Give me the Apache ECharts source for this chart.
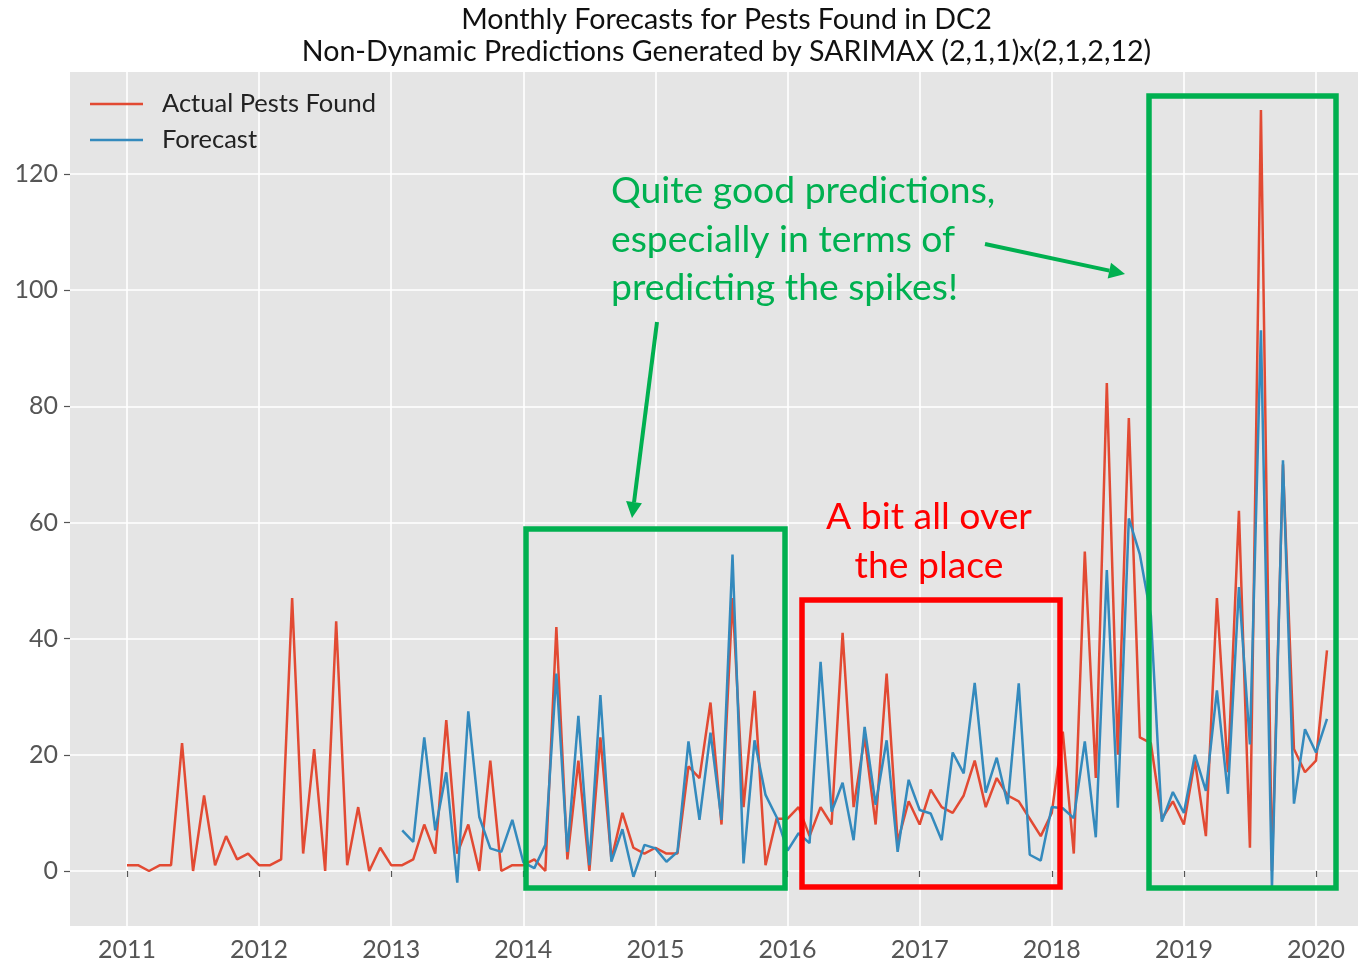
<!DOCTYPE html>
<html>
<head>
<meta charset="utf-8">
<script src="https://cdn.jsdelivr.net/npm/echarts@6/dist/echarts.min.js"></script>
<style>
  html, body { margin: 0; padding: 0; background: #ffffff; }
  #chart { width: 1369px; height: 966px; }
</style>
</head>
<body>
<div id="chart"></div>
<script>
// Monthly pest counts found in DC2, January 2011 onwards
const actualStart = '2011-01';
const actualPests = [
  1, 1, 0, 1, 1, 22, 0, 13, 1, 6, 2, 3,          // 2011
  1, 1, 2, 47, 3, 21, 0, 43, 1, 11, 0, 4,        // 2012
  1, 1, 2, 8, 3, 26, 3, 8, 0, 19, 0, 1,          // 2013
  1, 2, 0, 42, 2, 19, 0, 23, 2, 10, 4, 3,        // 2014
  4, 3, 3, 18, 16, 29, 8, 47, 11, 31, 1, 9,      // 2015
  9, 11, 6, 11, 8, 41, 11, 23, 8, 34, 5, 12,     // 2016
  8, 14, 11, 10, 13, 19, 11, 16, 13, 12, 9, 6,   // 2017
  10, 24, 3, 55, 16, 84, 20, 78, 23, 22, 9, 12,  // 2018
  8, 19, 6, 47, 17, 62, 4, 131, 0, 70, 21, 17,   // 2019
  19, 38                                         // 2020
];

// One-step-ahead SARIMAX forecasts, February 2013 onwards
const forecastStart = '2013-02';
const forecastPests = [
  7, 5, 23, 7, 17, -2, 27.5, 9.3, 3.9, 3.3, 8.8,                // 2013
  1.5, 0.5, 4.5, 34, 3.3, 26.7, 1, 30.3, 1.6, 7.2, -1, 4.5,     // 2014
  3.9, 1.6, 3.3, 22.3, 8.8, 23.8, 8.8, 54.5, 1.3, 22.5, 13.1, 9.3, // 2015
  3.5, 6.5, 4.8, 36, 10.2, 15.2, 5.3, 24.8, 11.4, 22.5, 3.3, 15.7, // 2016
  10.5, 9.9, 5.3, 20.4, 16.8, 32.4, 13.5, 19.5, 11.5, 32.3, 2.8, 1.8, // 2017
  11, 10.8, 9.1, 22.3, 5.8, 51.8, 10.9, 60.7, 54.5, 44, 8.5, 13.6, // 2018
  10, 20, 13.8, 31.1, 13.3, 48.9, 21.8, 93.1, -3, 70.7, 11.6, 24.4, // 2019
  20.4, 26.2                                                    // 2020
];

const yearTicks = [2011, 2012, 2013, 2014, 2015, 2016, 2017, 2018, 2019, 2020];
const countTicks = [0, 20, 40, 60, 80, 100, 120];

const seriesNames = ['Actual Pests Found', 'Forecast'];
const titleLines = [
  'Monthly Forecasts for Pests Found in DC2',
  'Non-Dynamic Predictions Generated by SARIMAX (2,1,1)x(2,1,2,12)'
];
const noteGood = ['Quite good predictions,', 'especially in terms of', 'predicting the spikes!'];
const noteMixed = ['A bit all over', 'the place'];

// month string -> fractional year, so year ticks sit on January
function monthToYear(s) {
  const [y, m] = s.split('-').map(Number);
  return y + (m - 1) / 12;
}
function toPoints(start, values) {
  const x0 = monthToYear(start);
  return values.map((v, i) => [x0 + i / 12, v]);
}

const FONT = 'Lato, "Open Sans", sans-serif';
const RED = '#E24A33', BLUE = '#348ABD';
const NOTE_GREEN = '#00B050', NOTE_RED = '#FF0000';

// arrow drawn as a shaft plus a filled head
function arrow(x1, y1, x2, y2, color) {
  const dx = x2 - x1, dy = y2 - y1, len = Math.hypot(dx, dy);
  const ux = dx / len, uy = dy / len, headLen = 16, headW = 8;
  const bx = x2 - ux * headLen, by = y2 - uy * headLen;
  return [
    { type: 'line', shape: { x1, y1, x2: bx, y2: by },
      style: { stroke: color, lineWidth: 4 }, z: 100 },
    { type: 'polygon', shape: { points: [[x2, y2], [bx - uy * headW, by + ux * headW], [bx + uy * headW, by - ux * headW]] },
      style: { fill: color }, z: 100 }
  ];
}
function box(x1, y1, x2, y2, color) {
  return { type: 'rect', shape: { x: x1, y: y1, width: x2 - x1, height: y2 - y1 },
    style: { fill: 'none', stroke: color, lineWidth: 5.5 }, z: 100 };
}
function noteText(lines, x, y, color, align) {
  return { type: 'text', x, y, z: 100,
    style: { text: lines.join('\n'), fill: color, font: '37.3px ' + FONT,
      lineHeight: 48.5, align: align, verticalAlign: 'top' } };
}

const chart = echarts.init(document.getElementById('chart'), null, { renderer: 'canvas' });

chart.setOption({
  animation: false,
  backgroundColor: '#ffffff',
  title: {
    text: titleLines.join('\n'),
    left: 721.5, top: -1, textAlign: 'center',
    textStyle: { fontFamily: FONT, fontSize: 28.6, fontWeight: 'normal', color: '#111', lineHeight: 32 }
  },
  grid: {
    left: 70, right: 11, top: 72, bottom: 40,
    show: true, backgroundColor: '#E5E5E5', borderWidth: 0
  },
  legend: {
    orient: 'vertical', left: 90, top: 91, padding: 0,
    icon: 'rect', itemWidth: 53, itemHeight: 2.5, itemGap: 10,
    data: seriesNames,
    textStyle: { fontFamily: FONT, fontSize: 25.5, color: '#222', padding: [0, 0, 0, 14] }
  },
  xAxis: {
    type: 'value', min: 2010.5685, max: 2020.318,
    axisLine: { show: false },
    axisTick: { show: true, length: 6, customValues: yearTicks, lineStyle: { color: '#555', width: 1.2 } },
    axisLabel: { customValues: yearTicks, margin: 11, fontFamily: FONT, fontSize: 25, color: '#555',
      formatter: v => String(Math.round(v)) },
    splitLine: { show: true, lineStyle: { color: '#ffffff', width: 1.6 } }
  },
  yAxis: {
    type: 'value', min: -9.47, max: 137.56,
    axisLine: { show: false },
    axisTick: { show: true, length: 6, customValues: countTicks, lineStyle: { color: '#555', width: 1.2 } },
    axisLabel: { customValues: countTicks, margin: 12, fontFamily: FONT, fontSize: 25, color: '#555' },
    splitLine: { show: true, lineStyle: { color: '#ffffff', width: 1.6 } }
  },
  series: [
    { name: seriesNames[0], type: 'line', data: toPoints(actualStart, actualPests),
      showSymbol: false, symbol: 'none', lineStyle: { color: RED, width: 2.5 }, itemStyle: { color: RED }, z: 3 },
    { name: seriesNames[1], type: 'line', data: toPoints(forecastStart, forecastPests),
      showSymbol: false, symbol: 'none', lineStyle: { color: BLUE, width: 2.5 }, itemStyle: { color: BLUE }, z: 4 }
  ],
  graphic: [
    { type: 'rect', shape: { x: 81, y: 84, width: 304, height: 78, r: 4 },
      style: { fill: '#E5E5E5', stroke: '#CCCCCC', lineWidth: 1 }, z: -1, silent: true },
    box(526, 529, 785, 888, NOTE_GREEN),
    box(802, 600, 1060, 887, NOTE_RED),
    box(1149, 96, 1336, 888, NOTE_GREEN),
    noteText(noteGood, 611, 167, NOTE_GREEN, 'left'),
    noteText(noteMixed, 929, 493, NOTE_RED, 'center'),
    ...arrow(657, 322, 632, 518, NOTE_GREEN),
    ...arrow(985, 244, 1125, 274, NOTE_GREEN)
  ]
});
</script>
</body>
</html>
